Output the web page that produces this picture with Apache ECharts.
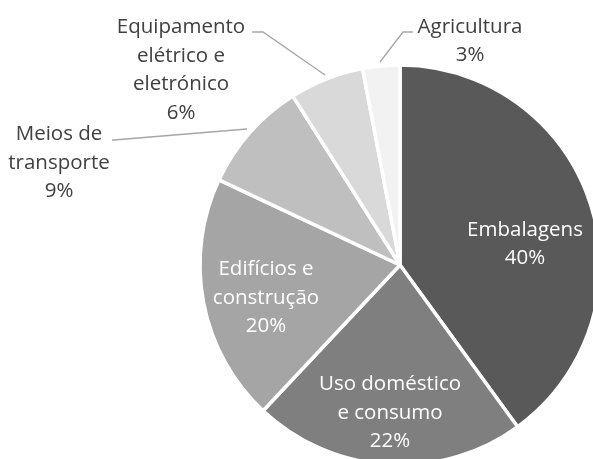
<!DOCTYPE html>
<html>
<head>
<meta charset="utf-8">
<script src="https://cdn.jsdelivr.net/npm/echarts@6/dist/echarts.min.js"></script>
<style>
  html, body { margin: 0; padding: 0; background: #ffffff; }
  #chart { width: 593px; height: 459px; }
</style>
</head>
<body>
<div id="chart"></div>
<script>
// Sectors of use (share, %)
var categories = [
  'Embalagens',
  'Uso doméstico\ne consumo',
  'Edifícios e\nconstrução',
  'Meios de\ntransporte',
  'Equipamento\nelétrico e\neletrónico',
  'Agricultura'
];
var shares = [40, 22, 20, 9, 6, 3];
var sliceColors = ['#595959', '#7f7f7f', '#a5a5a5', '#bfbfbf', '#d9d9d9', '#f2f2f2'];
var insideLabel = [true, true, true, false, false, false];

// Label anchor positions (centre of each text block) and leader lines
var labelSpots = [
  [525, 244],
  [390, 413],
  [266, 298],
  [59, 163],
  [181, 70],
  [470, 41]
];
var leaderLines = [
  null, null, null,
  [[247, 129], [114, 140], [112, 140]],
  [[325, 75], [263, 32], [252, 32]],
  [[380, 62], [403, 32], [413, 32]]
];

var FONT = '"Open Sans", sans-serif';

var pieData = categories.map(function (name, i) {
  return {
    name: name,
    value: shares[i],
    itemStyle: { color: sliceColors[i] },
    label: {
      position: insideLabel[i] ? 'inside' : 'outside',
      color: insideLabel[i] ? '#ffffff' : '#404040'
    },
    labelLine: { show: !insideLabel[i] }
  };
});

var chart = echarts.init(document.getElementById('chart'), null, { renderer: 'canvas' });
chart.setOption({
  animation: false,
  backgroundColor: '#ffffff',
  series: [{
    type: 'pie',
    center: [400, 265],
    radius: 200,
    startAngle: 90,
    clockwise: true,
    avoidLabelOverlap: false,
    itemStyle: { borderColor: '#ffffff', borderWidth: 3.5 },
    label: {
      formatter: function (p) { return p.name + '\n' + p.value + '%'; },
      fontFamily: FONT,
      fontSize: 20.5,
      lineHeight: 28.5,
      align: 'center'
    },
    labelLine: {
      lineStyle: { color: '#a6a6a6', width: 1.3 }
    },
    labelLayout: function (params) {
      var i = params.dataIndex;
      var out = {
        x: labelSpots[i][0],
        y: labelSpots[i][1],
        align: 'center',
        verticalAlign: 'middle'
      };
      if (leaderLines[i]) out.labelLinePoints = leaderLines[i];
      return out;
    },
    emphasis: { disabled: true },
    data: pieData
  }]
});
</script>
</body>
</html>
